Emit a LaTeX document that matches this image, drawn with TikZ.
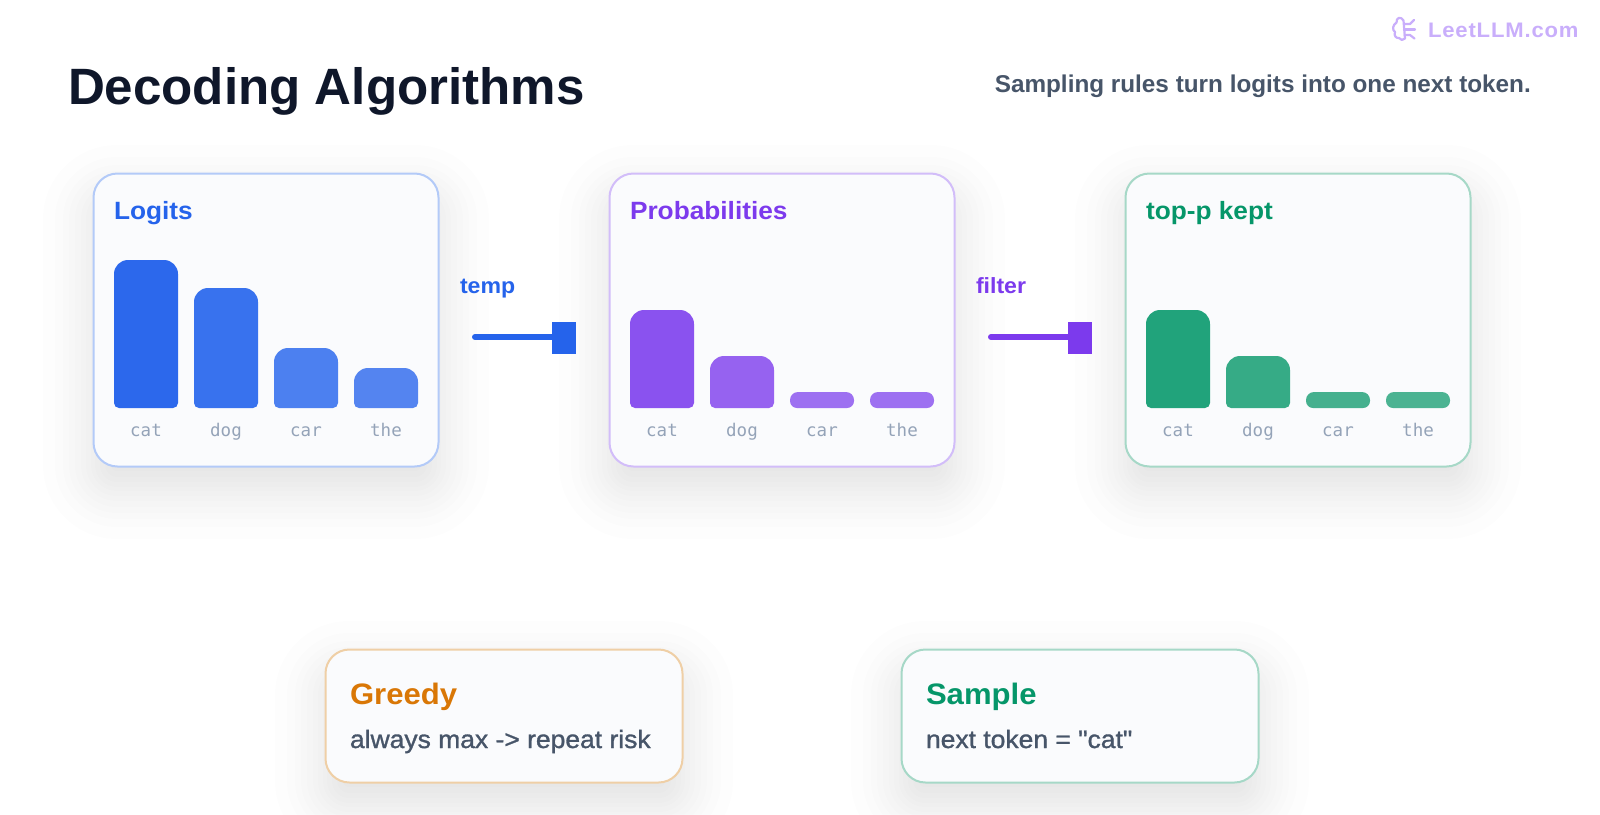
\documentclass[tikz,border=0pt]{standalone}
\usepackage{fontspec}
\setmainfont{Liberation Sans}
\newfontfamily\hb[FakeStretch=1.05]{Liberation Sans}
\newfontfamily\hplain{Liberation Sans}
\newfontfamily\hwm[LetterSpace=4,FakeStretch=1.05]{Liberation Sans}
\newfontfamily\hm[FakeStretch=1.05,FakeBold=1.2]{Liberation Sans}
\newfontfamily\hmono{DejaVu Sans Mono}
\definecolor{ink}{HTML}{0F172A}
\definecolor{slate}{HTML}{475569}
\definecolor{muted}{HTML}{94A3B8}
\definecolor{cardfill}{HTML}{FAFBFD}
\definecolor{cblue}{HTML}{2563EB}
\definecolor{cpurple}{HTML}{7C3AED}
\definecolor{cgreen}{HTML}{059669}
\definecolor{corange}{HTML}{D97706}
\definecolor{bblue}{HTML}{B3CAF8}
\definecolor{bpurple}{HTML}{D2BDF9}
\definecolor{bgreen}{HTML}{A6D8C7}
\definecolor{borange}{HTML}{EFCFA6}
\definecolor{logo}{HTML}{C9AEFB}
\tikzset{
  x=1pt,y=-1pt,
  txt/.style={inner sep=0pt,outer sep=0pt,anchor=base west},
  cardbox/.style={draw=#1,fill=cardfill,line width=2pt,rounded corners=24pt,inner sep=0pt,outer sep=0pt,anchor=north west},
  headtxt/.style={txt,font=\hb\bfseries\fontsize{25}{30}\selectfont},
  lowtxt/.style={txt,font=\hb\bfseries\fontsize{29.6}{34}\selectfont},
  bodytxt/.style={txt,text=slate,font=\hm\fontsize{25.2}{30}\selectfont},
  edgetxt/.style={txt,font=\hb\bfseries\fontsize{22}{26}\selectfont},
  toktxt/.style={inner sep=0pt,anchor=base,text=muted,font=\hmono\fontsize{17.5}{20}\selectfont},
  headsq/.style={inner sep=0pt,outer sep=0pt,minimum width=24pt,minimum height=32pt,fill=#1,anchor=west},
  conn/.style={draw=#1,line width=6pt,line cap=round},
}
% soft shadow: x0 y0 x1 y1
\newcommand{\softshadow}[4]{%
  \foreach \e in {50,38,30,24,18,12,7,2,-2,-7,-12,-18,-24,-30,-38,-50}{%
    \pgfmathsetmacro{\rr}{max(4,24+\e)}%
    \fill[ink,fill opacity=0.0085,rounded corners=\rr pt]
      ({#1-\e},{#2+22-\e}) rectangle ({#3+\e},{#4+22+\e});
  }%
}
% bar: x, top, colour, top radius, bottom radius
\newcommand{\tokbar}[5]{%
  \fill[#3] (#1,{#2+#4}) arc[start angle=180,end angle=90,x radius=#4,y radius=-#4]
    -- ({#1+64-#4},#2) arc[start angle=90,end angle=0,x radius=#4,y radius=-#4]
    -- ({#1+64},{408-#5}) arc[start angle=0,end angle=-90,x radius=#5,y radius=-#5]
    -- ({#1+#5},408) arc[start angle=-90,end angle=-180,x radius=#5,y radius=-#5] -- cycle;
}
\begin{document}
\begin{tikzpicture}
\useasboundingbox (0,0) rectangle (1600,814);
\fill[white] (0,0) rectangle (1600,814);

% watermark
\begin{scope}[draw=logo,line width=2.2pt,line cap=round,line join=round]
  \draw (1403.5,20.5) .. controls (1401,16) and (1396,17.5) .. (1396.5,22.5)
        .. controls (1392.5,25) and (1392,30) .. (1395,32)
        .. controls (1393.5,36) and (1396.5,38.5) .. (1399,38)
        .. controls (1400,40.5) and (1403.5,40.5) .. (1405,38.5) -- (1403.5,20.5);
  \draw (1404,24) -- (1410,24) -- (1414,20);
  \draw (1404,29.5) -- (1415,29.5);
  \draw (1404.5,35) -- (1410,35) -- (1414.5,38.5);
\end{scope}
\node[txt,text=logo,font=\hwm\bfseries\fontsize{21}{25}\selectfont] (wm) at (1428,37) {LeetLLM.com};

% headings
\node[txt,text=ink,font=\hplain\bfseries\fontsize{51.1}{58}\selectfont] (title) at (68,104.5) {Decoding Algorithms};
\node[inner sep=0pt,anchor=base east,text=slate,font=\hplain\bfseries\fontsize{24.3}{30}\selectfont] (sub) at (1531,92) {Sampling rules turn logits into one next token.};

% shadows
\softshadow{93}{173}{439}{467}
\softshadow{609}{173}{955}{467}
\softshadow{1125}{173}{1471}{467}
\softshadow{325}{649}{683}{783}
\softshadow{901}{649}{1259}{783}

% cards
\node[cardbox=bblue,minimum width=345pt,minimum height=293pt] (c1) at (93.5,173.5) {};
\node[cardbox=bpurple,minimum width=345pt,minimum height=293pt] (c2) at (609.5,173.5) {};
\node[cardbox=bgreen,minimum width=345pt,minimum height=293pt] (c3) at (1125.5,173.5) {};
\node[cardbox=borange,minimum width=357pt,minimum height=133pt] (c4) at (325.5,649.5) {};
\node[cardbox=bgreen,minimum width=357pt,minimum height=133pt] (c5) at (901.5,649.5) {};

\node[headtxt,text=cblue] (h1) at (114,219) {Logits};
\node[headtxt,text=cpurple] (h2) at (630,219) {Probabilities};
\node[headtxt,text=cgreen] (h3) at (1146,219) {top-p kept};

% bars
\definecolor{ba}{HTML}{2C68EC}\definecolor{bb}{HTML}{3872EE}\definecolor{bc}{HTML}{4C80F0}\definecolor{bd}{HTML}{5484F0}
\tokbar{114}{260}{ba}{14}{5}\tokbar{194}{288}{bb}{14}{5}\tokbar{274}{348}{bc}{14}{5}\tokbar{354}{368}{bd}{14}{5}
\definecolor{pa}{HTML}{8A52EF}\definecolor{pb}{HTML}{9662F0}\definecolor{pc}{HTML}{9D70F1}
\tokbar{630}{310}{pa}{14}{5}\tokbar{710}{356}{pb}{14}{5}\tokbar{790}{392}{pc}{8}{7}\tokbar{870}{392}{pc}{8}{7}
\definecolor{ga}{HTML}{21A37B}\definecolor{gb}{HTML}{36AB86}\definecolor{gc}{HTML}{45B08E}\definecolor{gd}{HTML}{4BB392}
\tokbar{1146}{310}{ga}{14}{5}\tokbar{1226}{356}{gb}{14}{5}\tokbar{1306}{392}{gc}{8}{7}\tokbar{1386}{392}{gd}{8}{7}

% token labels
\node[toktxt] (t11) at (146,436) {cat};
\node[toktxt] (t12) at (226,436) {dog};
\node[toktxt] (t13) at (306,436) {car};
\node[toktxt] (t14) at (386,436) {the};
\node[toktxt] (t21) at (662,436) {cat};
\node[toktxt] (t22) at (742,436) {dog};
\node[toktxt] (t23) at (822,436) {car};
\node[toktxt] (t24) at (902,436) {the};
\node[toktxt] (t31) at (1178,436) {cat};
\node[toktxt] (t32) at (1258,436) {dog};
\node[toktxt] (t33) at (1338,436) {car};
\node[toktxt] (t34) at (1418,436) {the};

% connectors
\node[edgetxt,text=cblue] (e1) at (460,293) {temp};
\coordinate (s1) at (475,337);
\node[headsq=cblue] (q1) at (552,338) {};
\draw[conn=cblue] (s1) -- (q1.west |- s1);
\node[edgetxt,text=cpurple] (e2) at (976,293) {filter};
\coordinate (s2) at (991,337);
\node[headsq=cpurple] (q2) at (1068,338) {};
\draw[conn=cpurple] (s2) -- (q2.west |- s2);

% bottom cards
\node[lowtxt,text=corange] (g1) at (350,704) {Greedy};
\node[bodytxt] (g2) at (350,748) {always max -> repeat risk};
\node[lowtxt,text=cgreen] (p1) at (926,704) {Sample};
\node[bodytxt] (p2) at (926,748) {next token = "cat"};
\end{tikzpicture}
\end{document}
